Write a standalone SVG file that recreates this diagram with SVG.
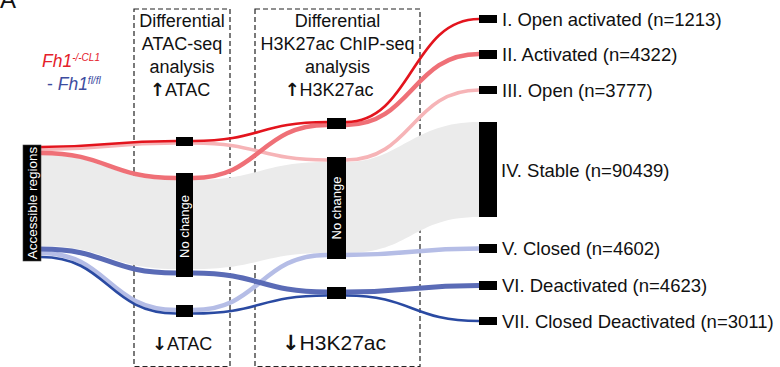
<svg xmlns="http://www.w3.org/2000/svg" width="780" height="367" viewBox="0 0 780 367">
  <style>
    text { font-family: "Liberation Sans", Arial, sans-serif; fill: #111; }
    .hdr { font-size: 18px; text-anchor: middle; }
    .lbl { font-size: 18.5px; }
    .box { fill: none; stroke: #222; stroke-width: 1.2; stroke-dasharray: 5 3; }
    .node { fill: #000; }
    .inner { font-size: 13px; fill: #fff; text-anchor: middle; }
    .arr { font-family: "DejaVu Sans", sans-serif; font-weight: bold; }
    .flow { fill: none; stroke-linecap: butt; }
    .dred { stroke: #e3141d; stroke-width: 2.6; }
    .mred { stroke: #ef7077; stroke-width: 4.5; }
    .lred { stroke: #f6b4b7; stroke-width: 3.6; }
    .mblu { stroke: #5a6bb6; stroke-width: 5; }
    .lblu { stroke: #b5bde6; stroke-width: 4.5; }
    .dblu { stroke: #2a4aa2; stroke-width: 2.6; }
  </style>

  <!-- panel letter -->
  <text x="0" y="8" style="font-size:24px">A</text>

  <!-- genotype comparison legend -->
  <g id="legend" style="font-style:italic">
    <text x="42" y="67" style="font-size:17.5px;fill:#e5202a">Fh1<tspan dy="-6" style="font-size:10px;fill:#e5202a">-/-CL1</tspan></text>
    <text x="47" y="90" style="font-size:17.5px;fill:#3d4d9f"><tspan style="font-style:normal;fill:#3d4d9f">- </tspan>Fh1<tspan dy="-6" style="font-size:10px;fill:#3d4d9f">fl/fl</tspan></text>
  </g>

  <!-- analysis step frames -->
  <g id="frame-atac">
    <rect class="box" x="134" y="9" width="96" height="357.5"/>
    <text class="hdr" x="182" y="27">Differential</text>
    <text class="hdr" x="182" y="50">ATAC-seq</text>
    <text class="hdr" x="182" y="73">analysis</text>
    <text class="hdr" x="180" y="96"><tspan class="arr">↑</tspan>ATAC</text>
    <text class="hdr" x="182" y="350"><tspan class="arr">↓</tspan>ATAC</text>
  </g>
  <g id="frame-h3k27ac">
    <rect class="box" x="255" y="9" width="165" height="357.5"/>
    <text class="hdr" x="337.5" y="27">Differential</text>
    <text class="hdr" x="337.5" y="50">H3K27ac ChIP-seq</text>
    <text class="hdr" x="337.5" y="73">analysis</text>
    <text class="hdr" x="329" y="96"><tspan class="arr">↑</tspan>H3K27ac</text>
    <text class="hdr" x="334" y="350" style="font-size:21px"><tspan class="arr">↓</tspan>H3K27ac</text>
  </g>

  <!-- flows -->
  <g id="connectors">
    <path id="stable" fill="#ebebeb" d="M41,155 C108,155 108,180 176,180 L193,180 C260,180 260,162 327,162 L346,162 C400,162 412,122 479,122 L479,217 C412,217 412,253 346,253 L327,253 C260,253 260,269 193,269 L176,269 C108,269 108,246 41,246 Z"/>
    <path class="flow lred" d="M41,149.5 C108,149.5 108,143 176,143 L193,143 C260,143 260,160 327,160 L346,160 C412,160 412,90 479,90"/>
    <path class="flow mred" d="M41,153 C108,153 108,178 176,178 L193,178 C260,178 260,125 327,125 L346,125 C412,125 412,54 479,54"/>
    <path class="flow dred" d="M41,147 C108,147 108,141 176,141 L193,141 C260,141 260,122 327,122 L346,122 C412,122 412,19 479,19"/>
    <path class="flow lblu" d="M41,253 C108,253 108,310 176,310 L193,310 C260,310 260,255 327,255 L346,255 C412,255 412,248.5 479,248.5"/>
    <path class="flow mblu" d="M41,249 C108,249 108,273 176,273 L193,273 C260,273 260,292 327,292 L346,292 C412,292 412,285.5 479,285.5"/>
    <path class="flow dblu" d="M41,257 C108,257 108,313.5 176,313.5 L193,313.5 C260,313.5 260,295.5 327,295.5 L346,295.5 C412,295.5 412,321 479,321"/>
  </g>

  <!-- source -->
  <g id="accessible">
    <rect class="node" x="23" y="145" width="18" height="116" stroke="#444" stroke-width="0.6"/>
    <text class="inner" transform="translate(37,203) rotate(-90)" style="font-size:13.5px">Accessible regions</text>
  </g>

  <!-- ATAC step -->
  <g id="atac-up"><rect class="node" x="176" y="137" width="17" height="9"/></g>
  <g id="atac-nochange">
    <rect class="node" x="176" y="173" width="17" height="104"/>
    <text class="inner" transform="translate(189,226.5) rotate(-90)">No change</text>
  </g>
  <g id="atac-down"><rect class="node" x="176" y="305" width="17" height="12"/></g>

  <!-- H3K27ac step -->
  <g id="h3k27ac-up"><rect class="node" x="327" y="118" width="19" height="11"/></g>
  <g id="h3k27ac-nochange">
    <rect class="node" x="327" y="157" width="19" height="102"/>
    <text class="inner" transform="translate(341,208) rotate(-90)">No change</text>
  </g>
  <g id="h3k27ac-down"><rect class="node" x="327" y="287" width="19" height="12"/></g>

  <!-- outcome classes -->
  <g id="class-1"><rect class="node" x="479" y="15" width="18" height="8"/><text class="lbl" x="502" y="25.5">I. Open activated (n=1213)</text></g>
  <g id="class-2"><rect class="node" x="479" y="50" width="18" height="9"/><text class="lbl" x="502" y="61">II. Activated (n=4322)</text></g>
  <g id="class-3"><rect class="node" x="479" y="86" width="18" height="8"/><text class="lbl" x="502" y="96.5">III. Open (n=3777)</text></g>
  <g id="class-4"><rect class="node" x="479" y="122" width="18" height="95"/><text class="lbl" x="501" y="176.5">IV. Stable (n=90439)</text></g>
  <g id="class-5"><rect class="node" x="479" y="244" width="18" height="9"/><text class="lbl" x="502" y="255">V. Closed (n=4602)</text></g>
  <g id="class-6"><rect class="node" x="479" y="281" width="18" height="9"/><text class="lbl" x="502" y="292">VI. Deactivated (n=4623)</text></g>
  <g id="class-7"><rect class="node" x="479" y="317" width="18" height="8"/><text class="lbl" x="502" y="327.5">VII. Closed Deactivated (n=3011)</text></g>
</svg>
